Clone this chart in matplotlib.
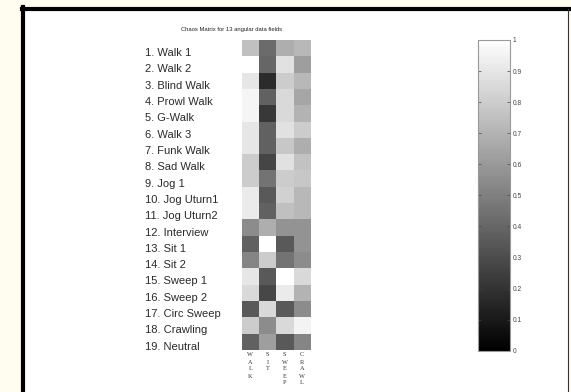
import numpy as np
import matplotlib
matplotlib.use('Agg')
import matplotlib.pyplot as plt
from matplotlib.transforms import blended_transform_factory
from matplotlib.lines import Line2D

matplotlib.rcParams['font.family'] = ['Liberation Sans', 'DejaVu Sans']

# movement names (rows) and angular field groups (columns)
MOTIONS = ['1. Walk 1', '2. Walk 2', '3. Blind Walk', '4. Prowl Walk', '5. G-Walk',
           '6. Walk 3', '7. Funk Walk', '8. Sad Walk', '9. Jog 1', '10. Jog Uturn1',
           '11. Jog Uturn2', '12. Interview', '13. Sit 1', '14. Sit 2', '15. Sweep 1',
           '16. Sweep 2', '17. Circ Sweep', '18. Crawling', '19. Neutral']
GROUPS = ['WALK', 'SIT', 'SWEEP', 'CRAWL']

walk = [0.75, 1.00, 0.90, 0.96, 0.96, 0.90, 0.90, 0.80, 0.80, 0.92,
        0.92, 0.55, 0.38, 0.52, 0.90, 0.85, 0.35, 0.80, 0.38]
sit = [0.42, 0.40, 0.17, 0.38, 0.22, 0.38, 0.38, 0.27, 0.45, 0.35,
       0.38, 0.68, 1.00, 0.80, 0.35, 0.28, 0.85, 0.55, 0.62]
sweep = [0.68, 0.88, 0.80, 0.85, 0.85, 0.88, 0.78, 0.88, 0.80, 0.82,
         0.75, 0.58, 0.35, 0.45, 1.00, 0.92, 0.35, 0.85, 0.35]
crawl = [0.72, 0.62, 0.72, 0.65, 0.70, 0.80, 0.68, 0.76, 0.78, 0.72,
         0.72, 0.58, 0.58, 0.55, 0.85, 0.70, 0.55, 0.95, 0.52]

BG = '#FFFDF0'

fig = plt.figure(figsize=(5.71, 3.92), dpi=100, facecolor=BG)
W, H = 571.0, 392.0

def fx(px):
    return px / W

def fy(py):
    return 1 - py / H

# white panel with MATLAB-ish frame
fig.patches.append(plt.Rectangle((fx(22), 0), fx(547), fy(7), transform=fig.transFigure,
                                 facecolor='white', edgecolor='none', zorder=-10))
fig.lines.append(Line2D([fx(23.5), fx(23.5)], [0, fy(7)], transform=fig.transFigure,
                        color='black', lw=3.0, zorder=-5))
fig.lines.append(Line2D([fx(22), fx(569)], [fy(9), fy(9)], transform=fig.transFigure,
                        color='black', lw=3.0, zorder=-5))
fig.lines.append(Line2D([fx(568), fx(568)], [0, fy(9)], transform=fig.transFigure,
                        color='#333333', lw=0.8, zorder=-5))

mat = np.column_stack([walk, sit, sweep, crawl])

ax = fig.add_axes([fx(241.7), fy(350), fx(69), (350 - 40) / H])
im = ax.imshow(mat, cmap='gray', vmin=0, vmax=1, aspect='auto', interpolation='nearest')
ax.set_xticks([])
ax.set_yticks([])
for s in ax.spines.values():
    s.set_visible(False)

trans = blended_transform_factory(fig.transFigure, ax.transData)
for i, name in enumerate(MOTIONS):
    ax.text(fx(145), i + 0.3, name, transform=trans, ha='left', va='center',
            fontsize=8, color='#2a2a2a', clip_on=False)

# vertical stacked column names, one letter per line
ctrans = blended_transform_factory(ax.transData, fig.transFigure)
for j, g in enumerate(GROUPS):
    for k, ch in enumerate(g):
        ax.text(j, fy(355 + 7 * k), ch, transform=ctrans, ha='center', va='center',
                fontsize=4.5, family='Liberation Serif', color='#333333', clip_on=False)

fig.text(fx(232), fy(30), 'Chaos Matrix for 13 angular data fields', ha='center',
         va='center', fontsize=4.2, color='#222222')

cax = fig.add_axes([fx(478.3), fy(350.7), fx(31.7), (350.7 - 40) / H])
cb = fig.colorbar(im, cax=cax)
cb.set_ticks(np.arange(0, 1.01, 0.1))
cb.set_ticklabels(['0', '0.1', '0.2', '0.3', '0.4', '0.5', '0.6', '0.7', '0.8', '0.9', '1'])
cax.tick_params(axis='y', which='both', direction='in', left=True, right=True,
                length=2, width=0.5, labelsize=4.8, colors='#444444', pad=2)
cb.outline.set_edgecolor('#999999')
cb.outline.set_linewidth(0.8)

fig.savefig('out.png', dpi=100, facecolor=BG)
